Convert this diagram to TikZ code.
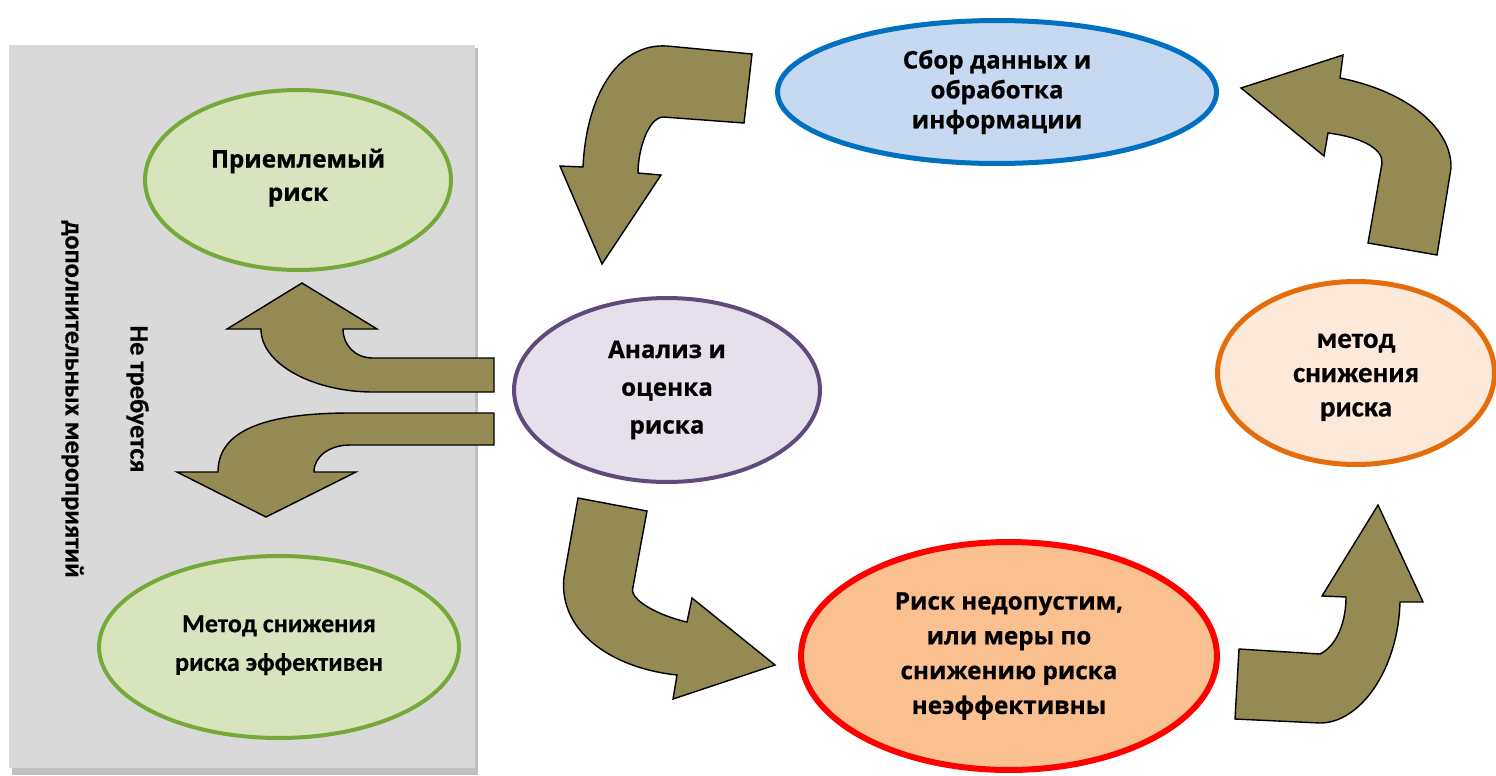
\documentclass[tikz,border=0pt]{standalone}
\usepackage{fontspec}
\setmainfont{Open Sans}[BoldFeatures={FakeBold=0.6}]
\newfontfamily\calibri{Carlito}[BoldFeatures={FakeBold=0.5}]
\usepackage{tikz}
\usetikzlibrary{shapes.geometric,positioning}

\definecolor{panelgray}{HTML}{D9D9D9}
\definecolor{panelshade}{HTML}{BFBFBF}
\definecolor{arrowolive}{HTML}{948A54}
\definecolor{grnline}{HTML}{77A93A}
\definecolor{grnfill}{HTML}{D7E4BD}
\definecolor{purline}{HTML}{604A7B}
\definecolor{purfill}{HTML}{E5E0EC}
\definecolor{bluline}{HTML}{0070C0}
\definecolor{blufill}{HTML}{C6D9F1}
\definecolor{orgline}{HTML}{E46C0A}
\definecolor{orgfill}{HTML}{FDE9D9}
\definecolor{redline}{HTML}{FF0000}
\definecolor{redfill}{HTML}{FAC090}

\begin{document}
\begin{tikzpicture}[
    x=0.02cm, y=-0.02cm,
    oval/.style={ellipse,align=center,inner sep=0pt,line width=0.08cm},
    gothic/.style={font=\bfseries\fontsize{13.8}{#1}\selectfont},
    narrow/.style 2 args={font=\calibri\bfseries\fontsize{#1}{#2}\selectfont},
    bigarrow/.style={draw=black,fill=arrowolive,line width=0.8pt,line join=miter},
]
    \useasboundingbox (0,0) rectangle (1496,775);

    \fill[panelshade] (12,48) rectangle (478,775);
    \fill[panelgray] (9,45) rectangle (475,768);

    \node[oval,draw=grnline,fill=grnfill,minimum width=6.12cm,minimum height=3.6cm,gothic=19] (accept) at (298,180) {Приемлемый\\риск\\[-13pt]};
    \node[oval,draw=grnline,fill=grnfill,minimum width=7.2cm,minimum height=3.64cm,narrow={14.8}{22}] (effective) at (279,647) {Метод снижения\\риска эффективен\\[-17.5pt]};
    \node[oval,draw=purline,fill=purfill,minimum width=6.12cm,minimum height=3.68cm,gothic=21.5] (analysis) at (667,390) {Анализ и\\оценка\\риска};
    \node[oval,draw=bluline,fill=blufill,line width=0.1cm,minimum width=8.78cm,minimum height=2.86cm,gothic=17] (collect) at (997,92) {Сбор данных и\\обработка\\информации};
    \node[oval,draw=orgline,fill=orgfill,line width=0.1cm,minimum width=5.54cm,minimum height=3.66cm,narrow={16.5}{19.5}] (method) at (1356,373) {\rule{0pt}{13pt}метод\\снижения\\риска};
    \node[oval,draw=redline,fill=redfill,line width=0.12cm,minimum width=8.32cm,minimum height=4.56cm,gothic=19.8] (unaccept) at (1009,656) {Риск недопустим,\\или меры по\\снижению риска\\неэффективны};

    \node[rotate=-90,align=center,narrow={15}{37}] (noneed) at (105,399) {Не требуется\\дополнительных мероприятий};

    \draw[bigarrow] (752,54) -- (667,46) .. controls (615,43) and (586,100) .. (583,167) -- (560,166) -- (602,264) -- (661,175) -- (638,173) .. controls (638,150) and (648,118) .. (663,117) -- (744,123) -- cycle;
    \draw[bigarrow] (1368,243) -- (1382,163) .. controls (1383,148) and (1360,137) .. (1328,133) -- (1324,156) -- (1241,88) -- (1343,55) -- (1340,78) .. controls (1410,92) and (1452,130) .. (1451,168) -- (1437,255) -- cycle;
    \draw[bigarrow] (578,498) -- (564,577) .. controls (558,630) and (610,668) .. (677,675) -- (673,699) -- (775,665) -- (692,598) -- (687,622) .. controls (660,616) and (628,600) .. (633,587) -- (647,511) -- cycle;
    \draw[bigarrow] (1239,649) -- (1320,654) .. controls (1338,645) and (1346,620) .. (1346,597) -- (1322,596) -- (1378,505) -- (1423,602) -- (1400,602) .. controls (1398,670) and (1360,723) .. (1320,723) -- (1235,719) -- cycle;
    \draw[bigarrow] (494,358) -- (373,358) .. controls (355,358) and (343,345) .. (343,329) -- (377,329) -- (302,283) -- (227,329) -- (261,329) .. controls (261,365) and (315,392) .. (373,392) -- (494,392) -- cycle;
    \draw[bigarrow] (494,413) -- (350,413) .. controls (255,413) and (218,435) .. (218,472) -- (177,472) -- (266,517) -- (356,472) -- (314,472) .. controls (314,456) and (330,445) .. (350,445) -- (494,445) -- cycle;
\end{tikzpicture}
\end{document}
